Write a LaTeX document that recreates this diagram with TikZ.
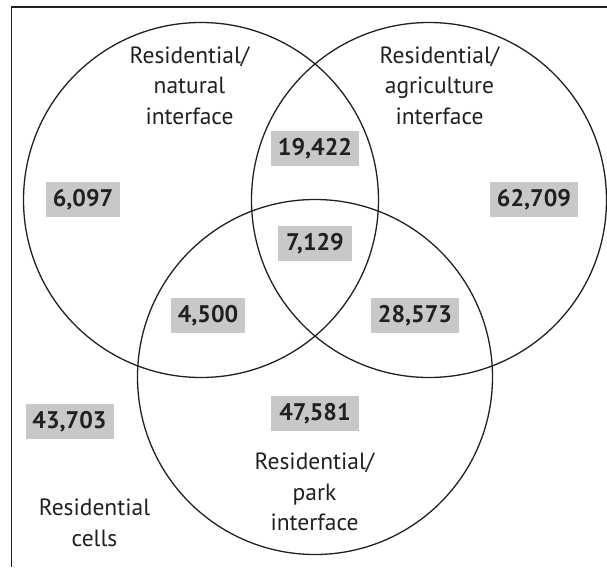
\documentclass[tikz,border=0pt]{standalone}
\usepackage{fontspec}
\setmainfont{PT Sans}
\definecolor{inkc}{RGB}{35,31,32}
\definecolor{boxc}{RGB}{200,200,201}
\begin{document}
\begin{tikzpicture}[x=1pt,y=-1pt,
  setline/.style={draw=inkc,line width=1.3pt},
  lbl/.style={align=center,text=inkc,inner sep=0pt,font=\fontsize{23.5}{30.5}\selectfont},
  numbox/.style={fill=boxc,text=inkc,inner sep=0pt,minimum height=35pt,font=\fontsize{24}{26}\selectfont\bfseries},
  narrow/.style={numbox,minimum width=74pt},
  wide/.style={numbox,minimum width=88pt}]
\useasboundingbox (0,0) rectangle (607,567);
% frame
\coordinate (fbl) at (11.5,567);
\coordinate (ftl) at (11.5,7);
\coordinate (ftr) at (607,7);
\draw[draw=inkc,line width=1.5pt] (fbl) -- (ftl) -- (ftr);
% sets
\node (setA) at (201,200) {};
\node (setB) at (429,200) {};
\node (setC) at (315,377) {};
\draw[setline] (setA.center) circle [radius=177.5];
\draw[setline] (setB.center) circle [radius=177.5];
\draw[setline] (setC.center) circle [radius=177.5];
% labels
\node[lbl] (la) at (189.5,85.5) {Residential/\\natural\\interface};
\node[lbl] (lb) at (439.5,85.5) {Residential/\\agriculture\\interface};
\node[lbl] (lc) at (314.5,492) {Residential/\\park\\interface};
\node[lbl] (ld) at (94.5,523) {Residential\\cells};
% counts
\node[wide] (nab) at (315,148.5) {19,422};
\node[narrow] (na) at (83,199.5) {6,097};
\node[wide] (nb) at (534,199.5) {62,709};
\node[narrow] (nabc) at (315,243.5) {7,129};
\node[narrow] (nac) at (208,315.5) {4,500};
\node[wide] (nbc) at (415,315.5) {28,573};
\node[wide] (nc) at (315,413.5) {47,581};
\node[wide] (nout) at (69.5,421.5) {43,703};
\end{tikzpicture}
\end{document}
